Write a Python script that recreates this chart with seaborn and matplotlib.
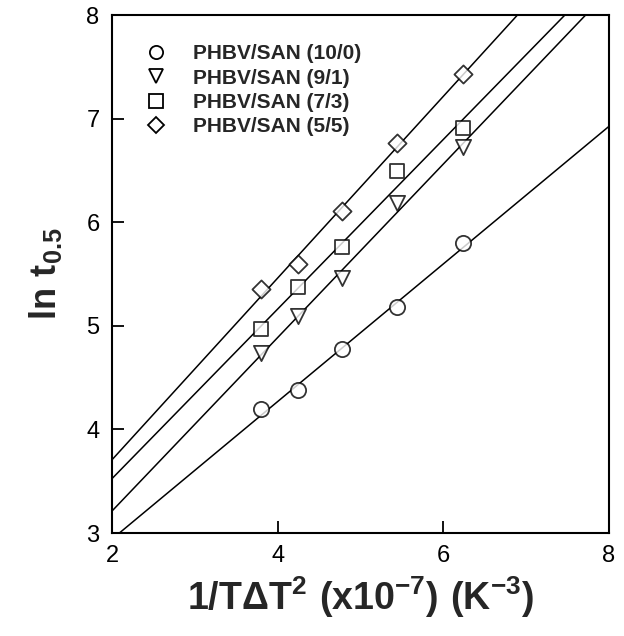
import matplotlib
matplotlib.use('Agg')
import matplotlib.pyplot as plt
from matplotlib.lines import Line2D
import seaborn as sns
import numpy as np

# 1/T dT^2 (x10^-7) values shared by all blends
inv_t_dt2 = [3.80, 4.25, 4.78, 5.44, 6.24]

# ln t0.5 for each blend composition
ln_t_10_0 = [4.20, 4.38, 4.78, 5.18, 5.80]
ln_t_9_1 = [4.74, 5.09, 5.46, 6.19, 6.73]
ln_t_7_3 = [4.97, 5.37, 5.76, 6.49, 6.91]
ln_t_5_5 = [5.36, 5.60, 6.11, 6.76, 7.43]

labels = ['PHBV/SAN (10/0)', 'PHBV/SAN (9/1)', 'PHBV/SAN (7/3)', 'PHBV/SAN (5/5)']
series = [ln_t_10_0, ln_t_9_1, ln_t_7_3, ln_t_5_5]
markers = ['o', 'v', 's', 'D']
marker_sizes = [120, 120, 105, 85]

sns.set_style('white')
plt.rcParams['font.family'] = ['Liberation Sans', 'DejaVu Sans']
plt.rcParams['mathtext.fontset'] = 'custom'
plt.rcParams['mathtext.rm'] = 'Liberation Sans'
plt.rcParams['mathtext.bf'] = 'Liberation Sans:bold'

fig = plt.figure(figsize=(6.24, 6.36), dpi=100)
ax = fig.add_axes([112 / 624, 1 - 533 / 636, 497 / 624, 518 / 636])
ax.set_xlim(2, 8)
ax.set_ylim(3, 8)

# regression line through each blend, stretched across the whole x range
for y, m, s in zip(series, markers, marker_sizes):
    sns.regplot(x=np.array(inv_t_dt2), y=np.array(y), ax=ax, ci=None, truncate=False,
                marker=m,
                scatter_kws={'s': s, 'facecolors': 'white', 'edgecolors': 'black',
                             'linewidths': 1.3, 'zorder': 3},
                line_kws={'color': 'black', 'lw': 1.1, 'zorder': 2})

ax.set_xticks([2, 4, 6, 8])
ax.set_yticks([3, 4, 5, 6, 7, 8])
ax.tick_params(direction='in', length=8.5, width=1.3, labelsize=17, colors='black',
               pad=9, top=False, right=False, left=True, bottom=True)
for sp in ax.spines.values():
    sp.set_color('black')
    sp.set_linewidth(1.5)

ax.set_xlabel(r'$\mathbf{1/T\Delta T^2\ (x10^{-7})\ (K^{-3})}$', fontsize=27, labelpad=5)
ax.set_ylabel(r'$\mathbf{ln\ t_{0.5}}$', fontsize=26, labelpad=16)

handles = [Line2D([], [], marker=m, ls='none', mfc='white', mec='black', mew=1.3,
                  ms=9.5 if m != 'D' else 8.5) for m in markers]
ax.legend(handles, labels, loc='upper left', frameon=False, bbox_to_anchor=(0.02, 0.98),
          prop={'weight': 'bold', 'size': 15}, labelspacing=0.26, handletextpad=1.0,
          handlelength=1.5)

fig.savefig('out.png', dpi=100)
